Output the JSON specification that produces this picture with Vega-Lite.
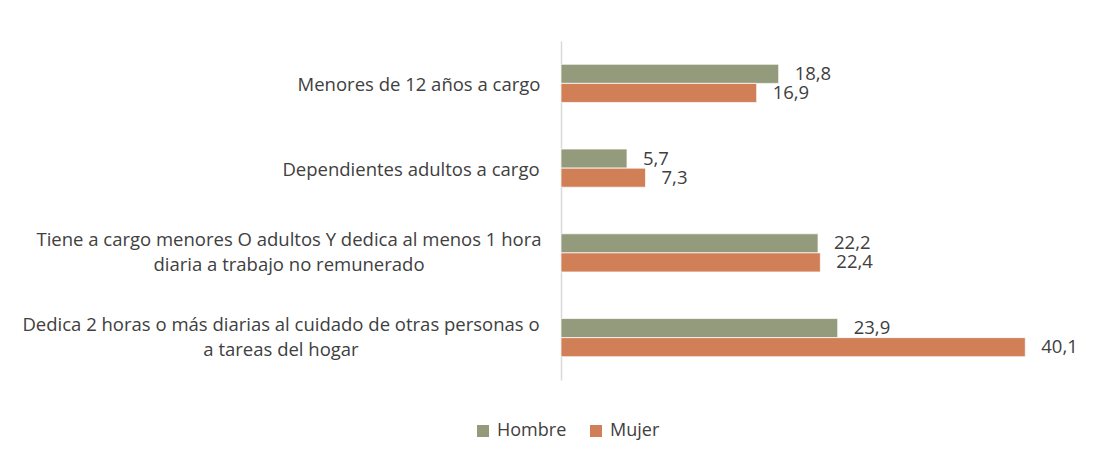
{
  "$schema": "https://vega.github.io/schema/vega-lite/v6.json",
  "width": 521,
  "height": 339,
  "autosize": {"type": "none"},
  "padding": {"left": 561, "top": 41, "right": 16, "bottom": 79},
  "background": "white",
  "config": {
    "view": {"stroke": null},
    "font": "Open Sans",
    "locale": {"number": {"decimal": ",", "thousands": ".", "grouping": [3], "currency": ["", "€"]}}
  },
  "data": {
    "values": [
      {"categoria": "Menores de 12 años a cargo", "sexo": "Hombre", "valor": 18.8},
      {"categoria": "Menores de 12 años a cargo", "sexo": "Mujer", "valor": 16.9},
      {"categoria": "Dependientes adultos a cargo", "sexo": "Hombre", "valor": 5.7},
      {"categoria": "Dependientes adultos a cargo", "sexo": "Mujer", "valor": 7.3},
      {"categoria": "Tiene a cargo menores O adultos Y dedica al menos 1 hora|diaria a trabajo no remunerado", "sexo": "Hombre", "valor": 22.2},
      {"categoria": "Tiene a cargo menores O adultos Y dedica al menos 1 hora|diaria a trabajo no remunerado", "sexo": "Mujer", "valor": 22.4},
      {"categoria": "Dedica 2 horas o más diarias al cuidado de otras personas o|a tareas del hogar", "sexo": "Hombre", "valor": 23.9},
      {"categoria": "Dedica 2 horas o más diarias al cuidado de otras personas o|a tareas del hogar", "sexo": "Mujer", "valor": 40.1}
    ]
  },
  "encoding": {
    "y": {
      "field": "categoria",
      "type": "nominal",
      "sort": null,
      "scale": {"paddingInner": 0.55, "paddingOuter": 0.275},
      "axis": {
        "title": null,
        "ticks": false,
        "domainColor": "#D9D9D9",
        "domainWidth": 1.5,
        "labelPadding": {"expr": "datum.value == 'Menores de 12 años a cargo' ? 142.5 : (datum.value == 'Dependientes adultos a cargo' ? 150.5 : (indexof(datum.value, 'Tiene') == 0 ? 272.5 : 280.5))"},
        "labelOffset": {"expr": "indexof(datum.value, '|') >= 0 ? -12.5 : 1.5"},
        "labelAlign": "center",
        "labelBaseline": "middle",
        "labelFontSize": 18.5,
        "labelColor": "#404040",
        "labelLineHeight": 25,
        "labelLimit": 0,
        "labelExpr": "split(datum.value, '|')"
      }
    },
    "yOffset": {"field": "sexo", "type": "nominal", "sort": ["Hombre", "Mujer"]},
    "x": {"field": "valor", "type": "quantitative", "scale": {"domain": [0, 45]}, "axis": null}
  },
  "layer": [
    {
      "mark": {"type": "bar", "stroke": "white", "strokeWidth": 1, "strokeOpacity": 0.7},
      "encoding": {
        "color": {
          "field": "sexo",
          "type": "nominal",
          "scale": {"domain": ["Hombre", "Mujer"], "range": ["#949B7C", "#D17F57"]},
          "legend": {
            "title": null,
            "orient": "none",
            "legendX": -87,
            "legendY": 381,
            "direction": "horizontal",
            "symbolType": "square",
            "symbolSize": 144,
            "symbolOpacity": 1,
            "symbolStrokeWidth": 0,
            "labelFontSize": 18,
            "labelColor": "#404040",
            "labelOffset": 5,
            "columnPadding": 20
          }
        }
      }
    },
    {
      "mark": {"type": "text", "align": "left", "baseline": "middle", "dx": 16, "fontSize": 18.5, "color": "#404040"},
      "encoding": {"text": {"field": "valor", "type": "quantitative", "format": ".1f"}}
    }
  ]
}
